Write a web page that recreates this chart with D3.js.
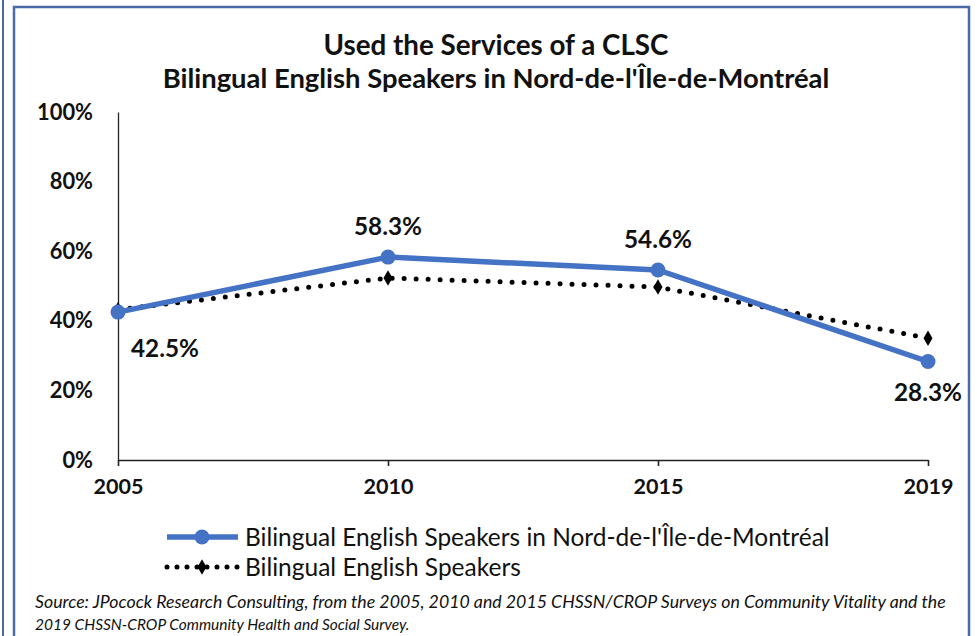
<!DOCTYPE html>
<html><head><meta charset="utf-8">
<script src="https://cdn.jsdelivr.net/npm/d3@7"></script>
<style>body{margin:0;background:#fff;}svg{display:block;}</style>
</head><body>
<svg id="c" width="977" height="636"></svg>
<script>
const years = ["2005","2010","2015","2019"];
const regionValues = [42.5, 58.3, 54.6, 28.3];
const provinceValues = [43.2, 52.3, 49.7, 35.0];
const yTicks = [0,20,40,60,80,100];
const seriesNames = ["Bilingual English Speakers in Nord-de-l'Île-de-Montréal","Bilingual English Speakers"];
const titleLines = ["Used the Services of a CLSC","Bilingual English Speakers in Nord-de-l'Île-de-Montréal"];
const sourceLines = ["Source: JPocock Research Consulting, from the 2005, 2010  and 2015  CHSSN/CROP Surveys on Community Vitality and the",
"2019  CHSSN-CROP Community Health and Social Survey."];

const svg = d3.select("#c");
const font = "Lato, 'Open Sans', sans-serif";
svg.append("line").attr("x1",3).attr("x2",3).attr("y1",0).attr("y2",636).attr("stroke","#4a6aa8").attr("stroke-width",2);
svg.append("rect").attr("x",14).attr("y",7).attr("width",955).attr("height",640).attr("fill","none").attr("stroke","#4a6aa8").attr("stroke-width",2.5);

const x = d3.scalePoint().domain(years).range([118,928]);
const y = d3.scaleLinear().domain([0,100]).range([460,112]);

function fitSize(sel, w){ const n=sel.node(); const l=n.getComputedTextLength(); const fs=parseFloat(sel.attr("font-size")); return fs*w/l; }
function fitText(sel, w){ sel.attr("font-size", fitSize(sel,w)); }

const t1 = svg.append("text").attr("x",496).attr("y",55).attr("text-anchor","middle").attr("font-family",font).attr("font-weight","bold").attr("font-size",22).attr("fill","#111").text(titleLines[0]);
fitText(t1, 345);
const t2 = svg.append("text").attr("x",496).attr("y",88).attr("text-anchor","middle").attr("font-family",font).attr("font-weight","bold").attr("font-size",22).attr("fill","#111").text(titleLines[1]);
fitText(t2, 667);

const yAxis = svg.append("g").attr("transform","translate(118,0)").call(d3.axisLeft(y).tickValues(yTicks).tickSize(0).tickPadding(25).tickFormat(d=>d+"%"));
yAxis.select(".domain").attr("stroke","#222").attr("stroke-width",1.3);
yAxis.selectAll("text").attr("font-family",font).attr("font-weight","bold").attr("font-size",20).attr("fill","#111");
const ys = fitSize(yAxis.selectAll("text").filter(d=>d===100), 56);
yAxis.selectAll("text").attr("font-size",ys);

const xAxis = svg.append("g").attr("transform","translate(0,460)").call(d3.axisBottom(x).tickSize(6).tickPadding(13).tickSizeOuter(0));
xAxis.select(".domain").attr("stroke","#222").attr("stroke-width",1.6);
xAxis.selectAll(".tick line").attr("stroke","#222").attr("stroke-width",1.6);
xAxis.selectAll("text").attr("font-family",font).attr("font-weight","bold").attr("font-size",20).attr("fill","#111");
const xs = fitSize(xAxis.selectAll("text").filter(d=>d==="2005"), 50);
xAxis.selectAll("text").attr("font-size",xs);

const line = d3.line().x((d,i)=>x(years[i])).y(d=>y(d));
svg.append("path").datum(provinceValues).attr("d",line).attr("fill","none").attr("stroke","#000").attr("stroke-width",5).attr("stroke-linecap","round").attr("stroke-dasharray","0,12");
const diamond = d3.symbol().type(d3.symbolDiamond).size(70);
svg.selectAll(".dm").data(provinceValues).join("path").attr("d",diamond).attr("transform",(d,i)=>`translate(${x(years[i])},${y(d)})`).attr("fill","#000");
svg.append("path").datum(regionValues).attr("d",line).attr("fill","none").attr("stroke","#4472C4").attr("stroke-width",5.5).attr("stroke-linejoin","round");
svg.selectAll(".rc").data(regionValues).join("circle").attr("cx",(d,i)=>x(years[i])).attr("cy",d=>y(d)).attr("r",7.5).attr("fill","#4472C4");

const offs = [[47,45],[0,-22],[0,-22],[0,39]];
const lbs = svg.selectAll(".lb").data(regionValues).join("text").attr("x",(d,i)=>x(years[i])+offs[i][0]).attr("y",(d,i)=>y(d)+offs[i][1]).attr("text-anchor","middle").attr("font-family",font).attr("font-weight","bold").attr("font-size",20).attr("fill","#111").text(d=>d.toFixed(1)+"%");
const ls = fitSize(lbs.filter((d,i)=>i===1), 68);
lbs.attr("font-size", ls);

const lg = svg.append("g");
lg.append("line").attr("x1",167).attr("x2",238).attr("y1",537).attr("y2",537).attr("stroke","#4472C4").attr("stroke-width",5.5);
lg.append("circle").attr("cx",202).attr("cy",537).attr("r",7.5).attr("fill","#4472C4");
lg.append("line").attr("x1",167).attr("x2",238).attr("y1",567).attr("y2",567).attr("stroke","#000").attr("stroke-width",5).attr("stroke-linecap","round").attr("stroke-dasharray","0,10");
lg.append("path").attr("d",diamond).attr("transform","translate(202,567)").attr("fill","#000");
seriesNames.forEach((n,i)=>{
  const tt = lg.append("text").attr("x",245).attr("y",537+i*30).attr("dy","0.35em").attr("font-family",font).attr("font-size",20).attr("fill","#111").text(n);
  fitText(tt, i===0?585:276);
});
sourceLines.forEach((s,i)=>{
  const tt = svg.append("text").attr("x",35).attr("y",608+i*22).attr("font-family",font).attr("font-style","italic").attr("font-size",14).attr("fill","#111").text(s);
  fitText(tt, i===0?911:375);
});
</script>
</body></html>
